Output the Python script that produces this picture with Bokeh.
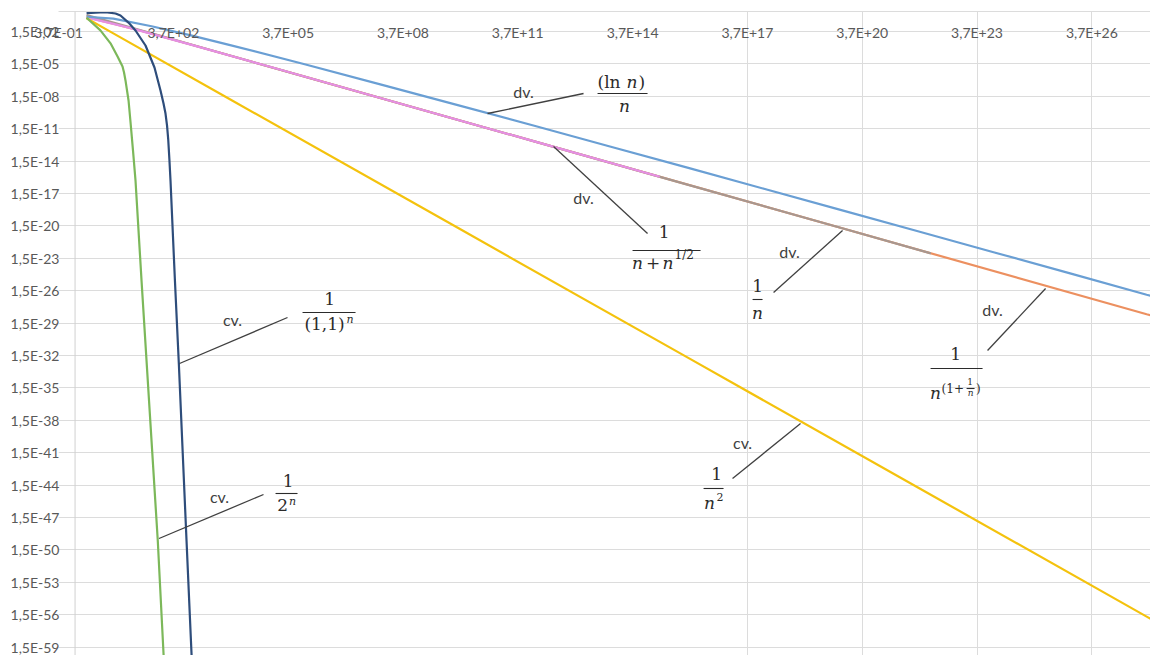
import math
from bokeh.plotting import figure
from bokeh.models import FixedTicker, Span, Range1d
from bokeh.core.properties import value
from bokeh.embed import file_html
from bokeh.resources import INLINE

# ---------------- axis ticks and labels ----------------
x_ticks = [3.7e-1, 3.7e2, 3.7e5, 3.7e8, 3.7e11, 3.7e14, 3.7e17, 3.7e20, 3.7e23, 3.7e26]
x_tick_labels = ["3,7E-01", "3,7E+02", "3,7E+05", "3,7E+08", "3,7E+11",
                 "3,7E+14", "3,7E+17", "3,7E+20", "3,7E+23", "3,7E+26"]
x_grid_ticks = [3.7e17, 3.7e20, 3.7e23, 3.7e26]
y_ticks = [1.5e-2, 1.5e-5, 1.5e-8, 1.5e-11, 1.5e-14, 1.5e-17, 1.5e-20, 1.5e-23,
           1.5e-26, 1.5e-29, 1.5e-32, 1.5e-35, 1.5e-38, 1.5e-41, 1.5e-44, 1.5e-47,
           1.5e-50, 1.5e-53, 1.5e-56, 1.5e-59]
y_tick_labels = ["1,5E-02", "1,5E-05", "1,5E-08", "1,5E-11", "1,5E-14", "1,5E-17",
                 "1,5E-20", "1,5E-23", "1,5E-26", "1,5E-29", "1,5E-32", "1,5E-35",
                 "1,5E-38", "1,5E-41", "1,5E-44", "1,5E-47", "1,5E-50", "1,5E-53",
                 "1,5E-56", "1,5E-59"]

# ---------------- series ----------------
# 1/2^n  (green)
n_two = [2, 4.6, 8.45, 12.9, 17.4, 19.05, 20.8, 25.0, 28.2, 32.7, 38.0, 54.6, 145,
         205, 231]
v_two = [0.28, 1.9e-2, 1.2e-3, 7.3e-5, 8.6e-6, 2.4e-6, 4.4e-7, 6.1e-9, 5.6e-11,
         1.4e-13, 2.4e-16, 1.3e-25, 1.1e-49, 3.8e-60, 1.4e-63]
# 1/(1,1)^n  (dark blue)
n_geo = [2, 4.6, 7.0, 11.4, 15.4, 24.9, 38.0, 69.4, 119, 171, 205, 231, 253, 272,
         292, 312, 407, 515, 818, 1104, 1224]
v_geo = [0.76, 0.86, 0.9, 0.70, 0.45, 0.10, 1.86e-2, 7.6e-4, 7.0e-6, 5.2e-8, 3.2e-9,
         3.8e-10, 3.0e-11, 1.5e-12, 2.1e-14, 2.4e-16, 1.3e-25, 2.7e-33, 1.1e-49,
         3.8e-60, 1.4e-63]
# 1/n^2  (yellow)
n_sq = [2, 10, 1e4, 1e10, 1e16, 1e22, 1e28, 1.3e28]
v_sq = [0.25, 1e-2, 1e-8, 1e-20, 1e-32, 1e-44, 1e-56, 5.9e-57]
# (ln n)/n  (light blue)
n_ln = [2, 10, 1e2, 1e3, 1e4, 1e6, 1e8, 1e10, 1e12, 1e14, 1e16, 1e18, 1e20, 1e22,
        1e24, 1e26, 1e28, 1.3e28]
v_ln = [0.347, 0.230, 4.6e-2, 6.9e-3, 9.2e-4, 1.4e-5, 1.8e-7, 2.3e-9, 2.8e-11,
        3.2e-13, 3.7e-15, 4.1e-17, 4.6e-19, 5.1e-21, 5.5e-23, 6.0e-25, 6.4e-27, 5.0e-27]
# 1/(n + n^(1/2))  (pink)
n_sqrt = [2, 3, 5, 10, 30, 100, 1e3, 1e5, 1e8, 1e12, 1.9e15]
v_sqrt = [0.293, 0.211, 0.138, 0.076, 0.0289, 9.1e-3, 9.7e-4, 1e-5, 1e-8, 1e-12, 5.3e-16]
# 1/n  (grey)
n_inv = [2, 10, 100, 1e4, 1e8, 1e12, 1e16, 1e20, 2.3e22]
v_inv = [0.5, 0.1, 1e-2, 1e-4, 1e-8, 1e-12, 1e-16, 1e-20, 4.3e-23]
# 1/n^(1+1/n)  (orange)
n_pw = [2, 3, 5, 10, 30, 100, 1e3, 1e6, 1e12, 1e20, 1e28, 1.3e28]
v_pw = [0.354, 0.231, 0.145, 0.079, 0.0296, 9.55e-3, 9.93e-4, 1e-6, 1e-12, 1e-20,
        1e-28, 7.7e-29]

# ---------------- figure ----------------
GRID = "#DCDCDC"
TICK = "#595959"
p = figure(width=1150, height=655, x_axis_type="log", y_axis_type="log",
           x_axis_location="above",
           x_range=Range1d(0.3695, 1.26e28), y_range=Range1d(2.5e-60, 1.066),
           output_backend="svg", toolbar_location=None,
           min_border_left=58, min_border_top=11, min_border_right=0, min_border_bottom=0)
p.outline_line_color = None
p.background_fill_color = "white"

p.xaxis.ticker = FixedTicker(ticks=x_ticks)
p.xaxis.major_label_overrides = dict(zip(x_ticks, x_tick_labels))
p.yaxis.ticker = FixedTicker(ticks=y_ticks)
p.yaxis.major_label_overrides = dict(zip(y_ticks, y_tick_labels))
for ax in (p.xaxis, p.yaxis):
    ax.major_tick_in = 0
    ax.major_tick_out = 0
    ax.minor_tick_in = 0
    ax.minor_tick_out = 0
    ax.major_label_text_font = "Lato"
    ax.major_label_text_font_size = "14px"
    ax.major_label_text_color = TICK
p.xaxis.axis_line_color = GRID
p.xaxis.major_label_standoff = -29
p.yaxis.axis_line_color = None
p.yaxis.major_label_standoff = -1

p.xgrid.ticker = FixedTicker(ticks=x_grid_ticks)
p.ygrid.ticker = FixedTicker(ticks=y_ticks)
p.xgrid.grid_line_color = GRID
p.ygrid.grid_line_color = GRID
p.add_layout(Span(location=1, dimension="height", line_color="#D0D0D0", line_width=1))

LW = 2.2
p.line(n_pw, v_pw, line_color="#EC9060", line_width=LW)
p.line(n_inv, v_inv, line_color="#A8978F", line_width=LW)
p.line(n_sqrt, v_sqrt, line_color="#E68FE3", line_width=LW)
p.line(n_ln, v_ln, line_color="#6A9FD4", line_width=LW)
p.line(n_sq, v_sq, line_color="#F4C20D", line_width=LW)
p.line(n_two, v_two, line_color="#7CB85A", line_width=LW)
p.line(n_geo, v_geo, line_color="#2E4D7B", line_width=LW)

# ---------------- annotations ----------------
LOG037 = math.log10(0.37)


def at(px, py):
    """map a position measured on the reference picture to data units"""
    return 10 ** ((px - 58) / 38.27 + LOG037), 10 ** (-(py - 11.3) / 10.8)


LEAD = "#404040"
MATH = "#2B2B2B"


def seg(a, b, color=LEAD, width=1.3):
    x0, y0 = at(*a)
    x1, y1 = at(*b)
    p.segment(x0=[x0], y0=[y0], x1=[x1], y1=[y1], line_color=color, line_width=width)


def txt(px, py, s, size=17, font="DejaVu Serif", style="normal", align="center",
        color=MATH):
    x, y = at(px, py)
    p.text(x=[x], y=[y], text=[s], text_font=value(font), text_font_size=f"{size}px",
           text_font_style=style, text_align=align, text_baseline="middle",
           text_color=color)


def bar(x0, x1, py):
    seg((x0, py), (x1, py), color=MATH, width=1.1)


# leader lines
for a, b in [((583, 93), (487, 113)), ((553, 146), (647, 233)), ((842, 230), (773, 292)),
             ((1045, 288), (987, 350)), ((800, 423), (732, 478)), ((287, 317), (179, 363)),
             ((263, 494), (158.5, 538))]:
    seg(a, b)

# dv. / cv.
for (px, py, s) in [(523, 91, "dv."), (583, 197, "dv."), (789, 251, "dv."),
                    (992, 309, "dv."), (742, 442, "cv."), (232, 319, "cv."),
                    (219, 496, "cv.")]:
    txt(px, py, s, size=16, font="Lato", color="#404040")

# (ln n)/n
txt(597, 82, "(ln", align="left")
txt(626, 82, "n", style="italic", align="left")
txt(638, 82, ")", align="left")
bar(597, 647, 93)
txt(624, 106, "n", style="italic")

# 1/(n + n^(1/2))
txt(663.5, 232, "1")
bar(632, 700, 250)
txt(637, 263, "n", style="italic")
txt(652.5, 263, "+")
txt(667.5, 263, "n", style="italic")
txt(674, 255, "1/2", size=12, align="left")

# 1/n
txt(757, 286, "1")
bar(752, 762, 299)
txt(757, 313, "n", style="italic")

# 1/n^(1+1/n)
txt(955, 354, "1")
bar(930, 982, 368)
txt(935, 393, "n", style="italic")
txt(941, 389, "(1+", size=12, align="left")
txt(969.5, 381.5, "1", size=9)
bar(966, 974, 388)
txt(970, 393, "n", size=9, style="italic")
txt(975.5, 389, ")", size=12, align="left")

# 1/n^2
txt(716, 474, "1")
bar(703, 723, 488)
txt(709, 503, "n", style="italic")
txt(719.5, 497, "2", size=11)

# 1/(1,1)^n
txt(329, 299, "1")
bar(302, 355, 312)
txt(324, 324, "(1,1)")
txt(349.5, 319, "n", size=11, style="italic")

# 1/2^n
txt(287.5, 481, "1")
bar(275, 297, 493)
txt(282, 505, "2")
txt(292, 501, "n", size=11, style="italic")

open("out.html", "w").write(file_html(p, INLINE))
